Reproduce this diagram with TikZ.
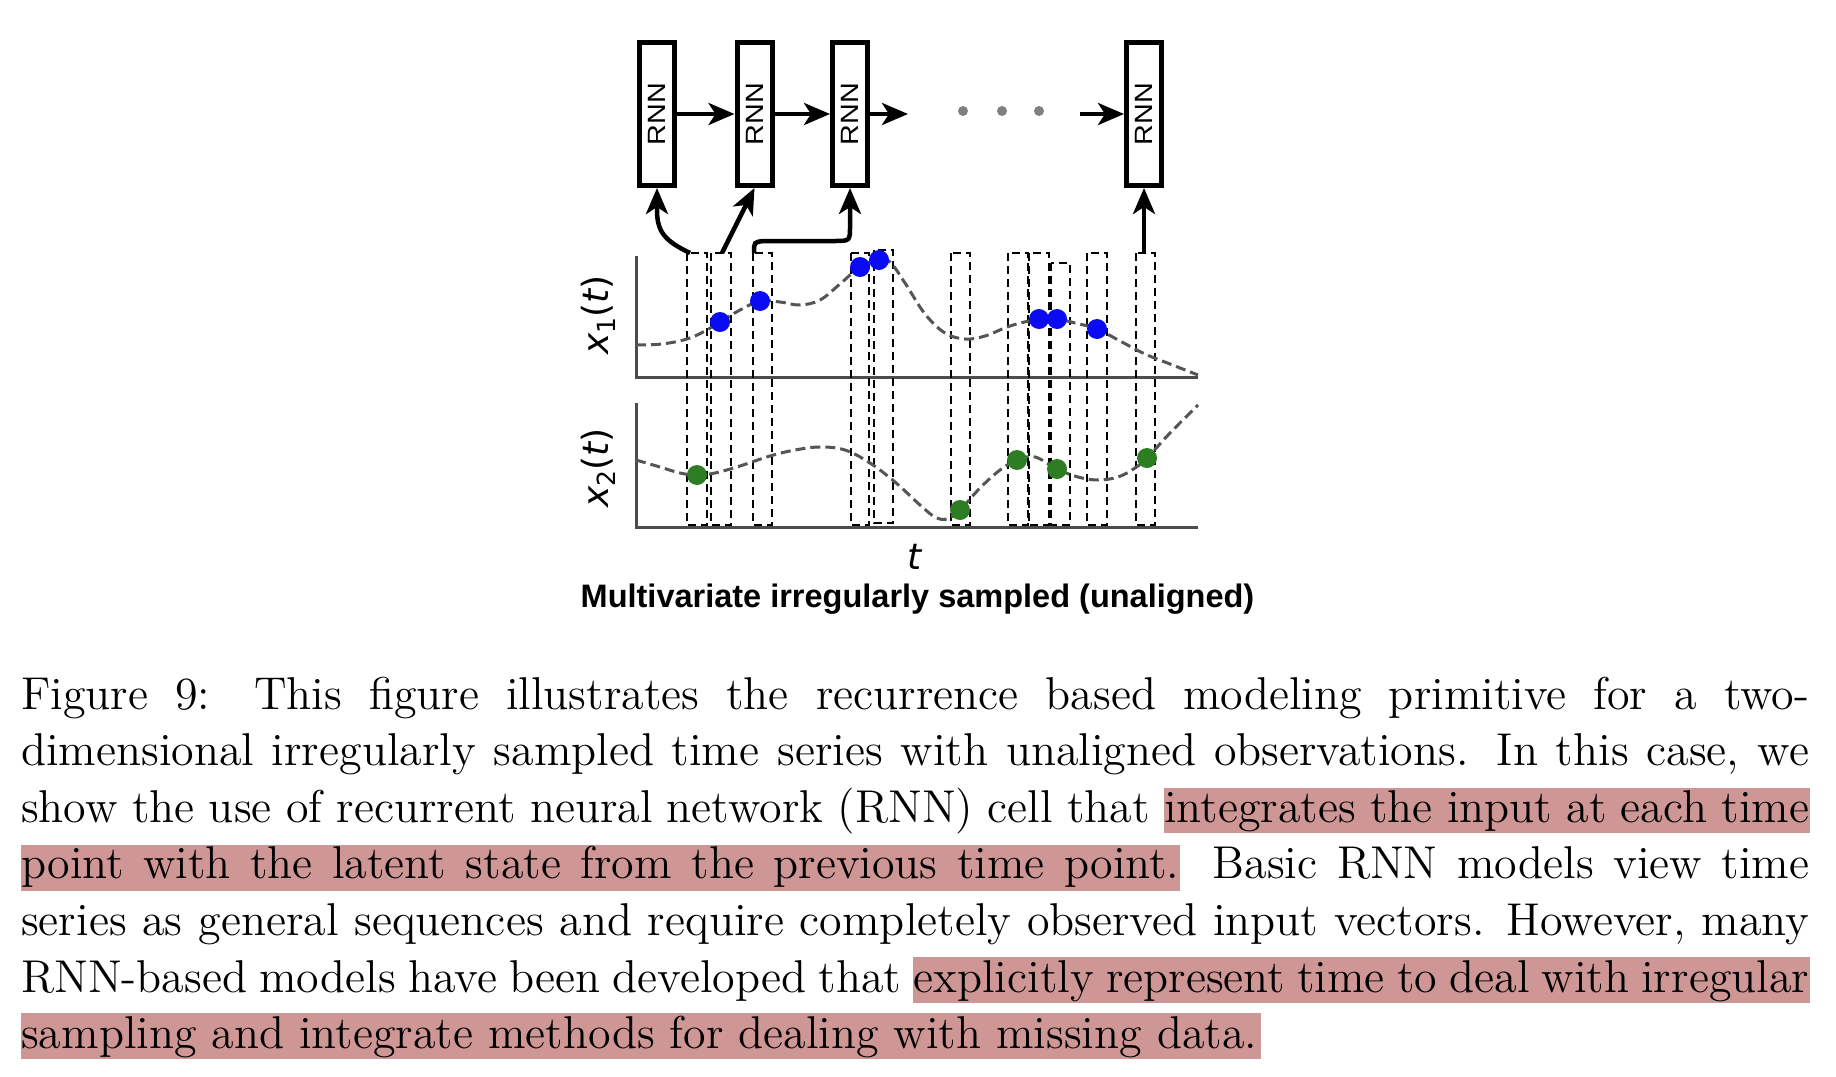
\documentclass[tikz,border=0pt]{standalone}
\usepackage{fontspec}
\usepackage{graphicx}
\usetikzlibrary{arrows.meta}

\newfontfamily\plotfont{DejaVu Sans}
\newfontfamily\arialfont{Liberation Sans}

\definecolor{hlpink}{RGB}{206,150,148}
\definecolor{dotblue}{RGB}{10,10,245}
\definecolor{dotgreen}{RGB}{45,125,35}
\definecolor{curvegray}{RGB}{85,85,85}

\newlength\lastw
\newlength\capw
\AtBeginDocument{%
  \settowidth\lastw{\fontsize{12}{14.5}\selectfont sampling and integrate methods for dealing with missing data.}%
  \pgfmathsetmacro\capscale{1236/\lastw}%
  \pgfmathsetlength\capw{1788pt/\capscale}}
\newcommand\capline[1]{\scalebox{\capscale}{\fontsize{12}{14.5}\selectfont\makebox[\capw][s]{#1}}}
\newcommand\caplast[1]{\scalebox{\capscale}{\fontsize{12}{14.5}\selectfont #1}}
\newcommand\rnntext{\rotatebox{90}{\scalebox{1.15}[1]{RNN}}}
\newcommand\serieslabel[1]{\itshape x\raisebox{-7pt}{\upshape\fontsize{25}{25}\selectfont #1}\upshape(\itshape t\upshape)}

\begin{document}
\begin{tikzpicture}[x=1pt, y=-1pt,
    rnnbox/.style={draw, line width=5pt, minimum width=35pt, minimum height=143pt, inner sep=0pt,
      font=\arialfont\fontsize{25}{26}\selectfont},
    chain/.style={line width=4.5pt, -{Stealth[length=26pt, width=22pt, inset=7pt]}},
    feed/.style={line width=4.5pt, -{Stealth[length=26pt, width=22pt, inset=7pt]}},
    obsbox/.style={line width=2.4pt, dash pattern=on 8pt off 5pt},
    axis/.style={line width=3pt, black!70},
    curve/.style={line width=3pt, curvegray, dash pattern=on 10pt off 5pt},
    axlabel/.style={rotate=90, inner sep=0pt, font=\plotfont\fontsize{36}{40}\selectfont},
    capline/.style={anchor=base west, inner sep=0pt}]

        \useasboundingbox (0,0) rectangle (1836,1076);

        % RNN chain
        \node[rnnbox] (r1) at (657,114) {\rnntext};
        \node[rnnbox] (r2) at (754.5,114) {\rnntext};
        \node[rnnbox] (r3) at (850,114) {\rnntext};
        \node[rnnbox] (r4) at (1144,114) {\rnntext};
        \coordinate (out3) at (908,114);
        \coordinate (in4) at (1080,114);

        \draw[chain] (r1.east) -- (r2.west);
        \draw[chain] (r2.east) -- (r3.west);
        \draw[chain] (r3.east) -- (out3);
        \draw[chain] (in4) -- (r4.west);

        \fill[gray] (963,111) circle[radius=5pt];
        \fill[gray] (1002,111) circle[radius=5pt];
        \fill[gray] (1039,111) circle[radius=5pt];

        % axes
        \draw[axis] (636,256) -- (636,377) -- (1198,377);
        \draw[axis] (636,403) -- (636,527) -- (1198,527);

        % observation windows
        \draw[obsbox] (687,253) rectangle (707,525);
        \draw[obsbox] (711,253) rectangle (731,525);
        \draw[obsbox] (753,253) rectangle (772,525);
        \draw[obsbox] (851,253) rectangle (869,525);
        \draw[obsbox] (874,250) rectangle (893,523);
        \draw[obsbox] (951,253) rectangle (970,525);
        \draw[obsbox] (1008,253) rectangle (1028,525);
        \draw[obsbox] (1029,253) rectangle (1049,525);
        \draw[obsbox] (1051,263) rectangle (1070,525);
        \draw[obsbox] (1087,253) rectangle (1107,525);
        \draw[obsbox] (1136,253) rectangle (1155,525);

        \coordinate (o1) at (690,253);
        \coordinate (o2) at (722,253);
        \coordinate (o3) at (754,253);
        \coordinate (o11) at (1144,253);

        \draw[feed] (o1) .. controls (665,241) and (657,232) .. (657,210) -- (r1.south);
        \draw[feed] (o2) -- (r2.south);
        \draw[feed] (o3) .. controls (754,242) .. (764,241) -- (834,241) .. controls (850,241) .. (850,226) -- (r3.south);
        \draw[feed] (o11) -- (r4.south);

        % series
        \draw[curve] plot[smooth, tension=0.6] coordinates {(636,345) (662,344) (687,339) (705,331) (720,322) (740,310) (760,301) (780,302) (800,305) (820,300) (840,284) (860,267) (879,260) (890,262) (905,283) (925,314) (945,333) (965,339) (985,336) (1010,326) (1039,319) (1057,319) (1075,323) (1097,329) (1120,341) (1145,354) (1170,364) (1198,375)};
        \draw[curve] plot[smooth, tension=0.6] coordinates {(636,460) (660,467) (680,473) (697,475) (715,473) (740,466) (770,456) (795,450) (820,447) (845,450) (870,463) (895,482) (920,505) (935,517) (947,519) (960,510) (980,488) (1000,470) (1017,460) (1035,457) (1057,469) (1078,477) (1098,480) (1118,477) (1135,468) (1147,458) (1170,433) (1198,405)};

        \fill[dotblue] (720,322) circle[radius=10pt];
        \fill[dotblue] (760,301) circle[radius=10pt];
        \fill[dotblue] (860,267) circle[radius=10pt];
        \fill[dotblue] (879,260) circle[radius=10pt];
        \fill[dotblue] (1039,319) circle[radius=10pt];
        \fill[dotblue] (1057,319) circle[radius=10pt];
        \fill[dotblue] (1097,329) circle[radius=10pt];

        \fill[dotgreen] (697,475) circle[radius=10pt];
        \fill[dotgreen] (960,510) circle[radius=10pt];
        \fill[dotgreen] (1017,460) circle[radius=10pt];
        \fill[dotgreen] (1057,469) circle[radius=10pt];
        \fill[dotgreen] (1147,458) circle[radius=10pt];

        \node[axlabel] (lab1) at (598,315) {\serieslabel{1}};
        \node[axlabel] (lab2) at (598,468) {\serieslabel{2}};
        \node[inner sep=0pt, font=\plotfont\fontsize{36}{40}\selectfont\itshape] (tlab) at (915,557) {t};
        \node[anchor=base, inner sep=0pt] (title) at (917.5,607) {\arialfont\bfseries\fontsize{32.5}{36}\selectfont Multivariate irregularly sampled (unaligned)};

        % caption
        \fill[hlpink] (1164,788) rectangle (1810,833);
        \fill[hlpink] (21,845) rectangle (1180,891);
        \fill[hlpink] (913,957) rectangle (1810,1003);
        \fill[hlpink] (21,1013) rectangle (1261,1059);

        \node[capline] (cap1) at (21,709) {\capline{Figure 9: This figure illustrates the recurrence based modeling primitive for a two-}};
        \node[capline] (cap2) at (21,765.6) {\capline{dimensional irregularly sampled time series with unaligned observations. In this case, we}};
        \node[capline] (cap3) at (21,822.2) {\capline{show the use of recurrent neural network (RNN) cell that integrates the input at each time}};
        \node[capline] (cap4) at (21,878.8) {\capline{point with the latent state from the previous time point. Basic RNN models view time}};
        \node[capline] (cap5) at (21,935.4) {\capline{series as general sequences and require completely observed input vectors. However, many}};
        \node[capline] (cap6) at (21,992) {\capline{RNN-based models have been developed that explicitly represent time to deal with irregular}};
        \node[capline] (cap7) at (21,1048.6) {\caplast{sampling and integrate methods for dealing with missing data.}};

    \end{tikzpicture}
\end{document}
